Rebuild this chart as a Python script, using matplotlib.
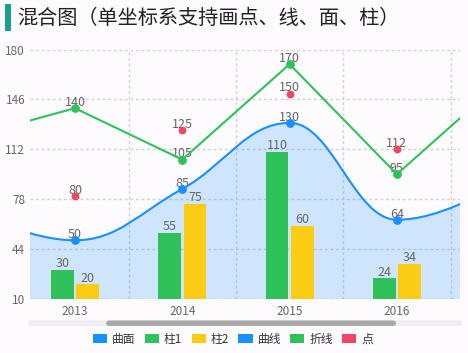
import matplotlib
matplotlib.use('Agg')
import matplotlib.pyplot as plt
from matplotlib.path import Path
from matplotlib.patches import PathPatch, Patch, FancyBboxPatch, Rectangle
from matplotlib.transforms import IdentityTransform

plt.rcParams['font.family'] = ['Noto Sans CJK SC', 'DejaVu Sans']

# data (uCharts-style mix chart, scrolled so only 2013-2016 are in view)
categories = ['2012', '2013', '2014', '2015', '2016', '2017']
area_vals = [70, 50, 85, 130, 64, 88]
col1_vals = [40, 30, 55, 110, 24, 58]
col2_vals = [50, 20, 75, 60, 34, 38]
curve_vals = [70, 50, 85, 130, 64, 88]
line_vals = [120, 140, 105, 170, 95, 160]
point_vals = [100, 80, 125, 150, 112, 132]
y_ticks = [10, 44, 78, 112, 146, 180]
legend_names = ['曲面', '柱1', '柱2', '曲线', '折线', '点']
title = '混合图（单坐标系支持画点、线、面、柱）'

BLUE, GREEN, YELLOW, RED = '#1890ff', '#2fc25b', '#facc14', '#f04864'
legend_colors = [BLUE, GREEN, YELLOW, BLUE, GREEN, RED]
BG = '#fdfbfd'
TXT = '#666666'

W, H = 468, 353
fig = plt.figure(figsize=(W / 100, H / 100), dpi=100, facecolor=BG)
ax = fig.add_axes([30 / W, (H - 299) / H, 430 / W, 249.5 / H])
ax.set_facecolor(BG)

xs = list(range(len(categories)))
view = (1 - 0.419, 1 + 3.588)


def ctrl_points(ys, i, a=0.2, b=0.2):
    n = len(ys)

    def extreme(k):
        if 0 < k < n - 1:
            return ys[k] >= max(ys[k - 1], ys[k + 1]) or ys[k] <= min(ys[k - 1], ys[k + 1])
        return False

    if i < 1:
        pax, pay = i + a, ys[0] + (ys[1] - ys[0]) * a
    else:
        pax, pay = i + 2 * a, ys[i] + (ys[i + 1] - ys[i - 1]) * a
    if i > n - 3:
        pbx, pby = (n - 1) - b, ys[n - 1] - (ys[n - 1] - ys[n - 2]) * b
    else:
        pbx, pby = i + 1 - 2 * b, ys[i + 1] - (ys[i + 2] - ys[i]) * b
    if extreme(i + 1):
        pby = ys[i + 1]
    if extreme(i):
        pay = ys[i]
    lo, hi = min(ys[i], ys[i + 1]), max(ys[i], ys[i + 1])
    if pay >= hi or pay <= lo:
        pay = ys[i]
    if pby >= hi or pby <= lo:
        pby = ys[i + 1]
    return (pax, pay), (pbx, pby)


def smooth_path(ys, base=None):
    verts = [(0, ys[0])]
    codes = [Path.MOVETO]
    for i in range(len(ys) - 1):
        ca, cb = ctrl_points(ys, i)
        verts += [ca, cb, (i + 1, ys[i + 1])]
        codes += [Path.CURVE4] * 3
    if base is not None:
        verts += [(len(ys) - 1, base), (0, base), (0, ys[0])]
        codes += [Path.LINETO, Path.LINETO, Path.CLOSEPOLY]
    return Path(verts, codes)


# area
ax.add_patch(PathPatch(smooth_path(area_vals, base=y_ticks[0]), facecolor=BLUE,
                       alpha=0.2, edgecolor='none', zorder=1))

# columns
bw, off = 0.21, 0.118
ax.bar([x - off for x in xs], col1_vals, width=bw, color=GREEN, zorder=2)
ax.bar([x + off for x in xs], col2_vals, width=bw, color=YELLOW, zorder=2)


def label(x, y, dy=1.5):
    if view[0] < x < view[1]:
        ax.annotate(str(y), (x, y), xytext=(0, dy), textcoords='offset points',
                    ha='center', va='baseline', fontsize=9, color=TXT, zorder=3)


for x, v in zip(xs, col1_vals):
    label(x - off, v, 2)
for x, v in zip(xs, col2_vals):
    label(x + off, v, 2)

# curve
ax.add_patch(PathPatch(smooth_path(curve_vals), facecolor='none', edgecolor=BLUE,
                       lw=1.5, zorder=4))
ax.plot(xs, curve_vals, ls='none', marker='o', ms=5.3, color=BLUE, zorder=5)

# polyline
ax.plot(xs, line_vals, color=GREEN, lw=1.5, marker='o', ms=5.3, zorder=4)

# points
ax.plot(xs, point_vals, ls='none', marker='o', ms=4.6, color=RED, zorder=5)

for x, v in zip(xs, curve_vals):
    label(x, v)
for x, v in zip(xs, line_vals):
    label(x, v)
for x, v in zip(xs, point_vals):
    label(x, v)

ax.set_yticks(y_ticks)
ax.set_xticks(xs, categories)
ax.set_xticks([x + 0.5 for x in xs[:-1]], minor=True)
ax.set_xlim(*view)
ax.set_ylim(y_ticks[0], y_ticks[-1])
ax.grid(axis='y', which='major', color='#d0d0d0', ls=(0, (2, 2)), lw=1)
ax.grid(axis='x', which='minor', color='#d0d0d0', ls=(0, (2, 2)), lw=1)
ax.set_axisbelow(True)
ax.tick_params(which='both', length=0, labelsize=8.5, labelcolor=TXT)
ax.tick_params(axis='y', pad=3.5)
ax.tick_params(axis='x', pad=4)
for s in ax.spines.values():
    s.set_visible(False)

# title
fig.add_artist(Rectangle((5, H - 31), 6, 27, transform=IdentityTransform(),
                         facecolor='#17a18c', edgecolor='none'))
fig.text(17 / W, 1 - 18.5 / H, title, fontsize=14.5, fontweight='light',
         ha='left', va='center', color='#222222')

# scroll bar
tx0, tx1 = 28, 462
ty0, th = H - 326, 5.5
fig.add_artist(FancyBboxPatch((tx0, ty0), tx1 - tx0, th, transform=IdentityTransform(),
                              boxstyle=f'round,pad=0,rounding_size={th / 2}',
                              facecolor='#efebef', edgecolor='none'))
full = (xs[0] - 0.5, xs[-1] + 0.5)
span = full[1] - full[0]
t0 = tx0 + (view[0] - full[0]) / span * (tx1 - tx0)
t1 = tx0 + (view[1] - full[0]) / span * (tx1 - tx0)
fig.add_artist(FancyBboxPatch((t0, ty0), t1 - t0, th, transform=IdentityTransform(),
                              boxstyle=f'round,pad=0,rounding_size={th / 2}',
                              facecolor='#a8a8a8', edgecolor='none'))

# legend
handles = [Patch(facecolor=c, edgecolor='none', label=n) for n, c in zip(legend_names, legend_colors)]
fig.legend(handles=handles, loc='center', bbox_to_anchor=(233 / W, 1 - 339 / H), ncol=6,
           frameon=False, fontsize=8.5, handlelength=1.2, handleheight=0.8,
           handletextpad=0.4, columnspacing=0.8, labelcolor='#333333', borderpad=0)

fig.savefig('out.png', dpi=100, facecolor=BG)
